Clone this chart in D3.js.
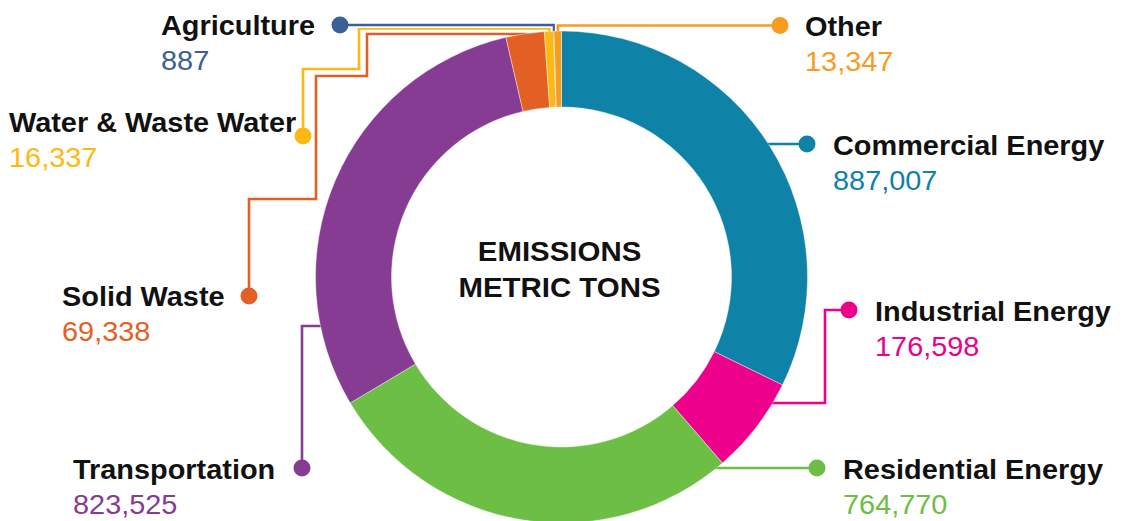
<!DOCTYPE html>
<html><head><meta charset="utf-8">
<script src="https://cdn.jsdelivr.net/npm/d3@7"></script>
<style>html,body{margin:0;padding:0;background:#fff;} svg{display:block;}</style>
</head><body>
<svg id="chart" width="1129" height="521"></svg>
<script>
const categories = ["Commercial Energy","Industrial Energy","Residential Energy","Transportation","Solid Waste","Water & Waste Water","Agriculture","Other"];
const values = [887007,176598,764770,823525,69338,16337,887,13347];
const colors = ["#0f82a8","#ec008c","#6cbe45","#873c94","#e36025","#fdb913","#3a6096","#f89c1f"];
const centerTitle = ["EMISSIONS","METRIC TONS"];

const cx = 561.5, cy = 277, R = 246, r = 170;
const sx = 1.07, fs = 27;

// label layout (positions only)
const layout = {
  "Commercial Energy":  {attach:"h", y:144,  route:[], dot:[807,144], tx:833, ty:155},
  "Industrial Energy":  {attach:"h", y:403,  route:[[825,403],[825,310]], dot:[849,310], tx:875, ty:321},
  "Residential Energy": {attach:"h", y:468,  route:[], dot:[817,468], tx:843, ty:479},
  "Transportation":     {attach:"h", y:326,  route:[[302,326]], dot:[302,468], tx:73, ty:479},
  "Solid Waste":        {attach:"v", y:34,   route:[[367,34],[367,76],[316,76],[316,199],[249,199]], dot:[249,296], tx:62, ty:306},
  "Water & Waste Water":{attach:"v", y:28.5, route:[[359,28.5],[359,69],[303,69]], dot:[303,136], tx:9, ty:132},
  "Agriculture":        {attach:"v", y:25,   route:[], dot:[340,25], tx:161, ty:35},
  "Other":              {attach:"v", y:25.5, route:[], dot:[780,25.5], tx:805, ty:36}
};

const svg = d3.select("#chart");
const data = categories.map((c,i)=>({name:c, value:values[i], color:colors[i]}));
const pie = d3.pie().sort(null).value(d=>d.value)(data);
const arc = d3.arc().innerRadius(r).outerRadius(R);
const fmt = d3.format(",");

const lineG = svg.append("g");
const rs = R - 8;
pie.forEach(p => {
  const L = layout[p.data.name];
  let pts = [];
  if (L.attach === "h") {
    const side = L.dot[0] > cx ? 1 : -1;
    const dy = L.y - cy;
    pts.push([cx + side*Math.sqrt(rs*rs - dy*dy), L.y]);
  } else {
    const a = (p.startAngle + p.endAngle)/2;
    const x0 = cx + rs*Math.sin(a), y0 = cy - rs*Math.cos(a);
    pts.push([x0, y0]);
    pts.push([x0, L.y]);
  }
  pts = pts.concat(L.route);
  pts.push(L.dot);
  const line = d3.line();
  lineG.append("path").attr("d", line(pts)).attr("fill","none")
    .attr("stroke","#fff").attr("stroke-width",6).attr("stroke-linejoin","miter");
  lineG.append("path").attr("d", line(pts)).attr("fill","none")
    .attr("stroke",p.data.color).attr("stroke-width",2.6).attr("stroke-linejoin","miter");
});

svg.append("g").attr("transform",`translate(${cx},${cy})`)
  .selectAll("path").data(pie).join("path")
  .attr("d", arc).attr("fill", d=>d.data.color)
  .attr("stroke","#fff").attr("stroke-width",0.4);

const dotG = svg.append("g");
pie.forEach(p => {
  const L = layout[p.data.name];
  dotG.append("circle").attr("cx",L.dot[0]).attr("cy",L.dot[1]).attr("r",8.5).attr("fill",p.data.color);
  const g = svg.append("g").attr("transform",`translate(${L.tx},${L.ty}) scale(${sx},1)`);
  g.append("text").attr("x",0).attr("y",0).text(p.data.name)
    .attr("font-family","'Liberation Sans', Arial, sans-serif").attr("font-weight","bold")
    .attr("font-size",fs).attr("fill","#111");
  g.append("text").attr("x",0).attr("y",35).text(fmt(p.data.value))
    .attr("font-family","'Liberation Sans', Arial, sans-serif")
    .attr("font-size",fs).attr("fill",p.data.color);
});

const cg = svg.append("g").attr("transform",`translate(${cx-2},0) scale(1.09,1)`);
centerTitle.forEach((t,i)=>{
  cg.append("text").attr("x",0).attr("y",261 + i*36).attr("text-anchor","middle")
    .attr("font-family","'Liberation Sans', Arial, sans-serif").attr("font-weight","bold")
    .attr("font-size",fs).attr("fill","#111").text(t);
});
</script>
</body></html>
